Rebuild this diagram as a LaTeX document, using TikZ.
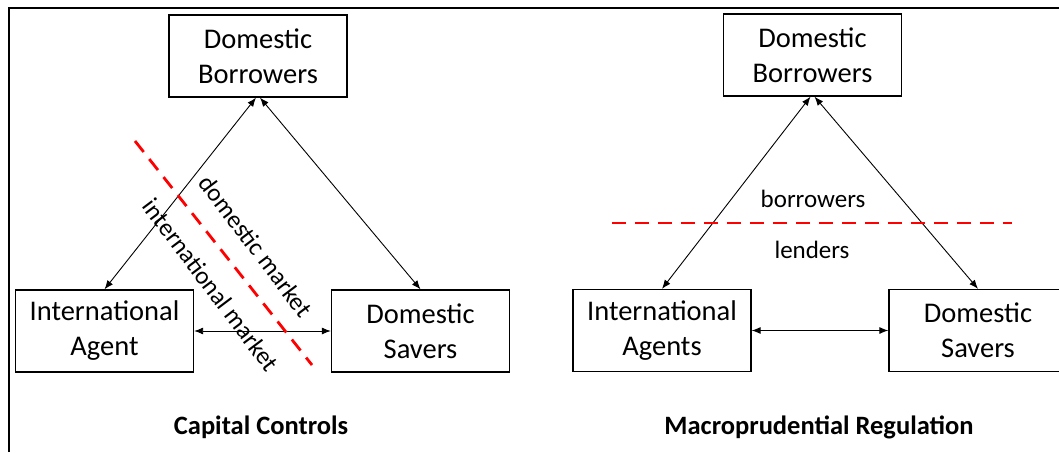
\documentclass[tikz,border=0pt]{standalone}
\usepackage{fontspec}
\setmainfont{Carlito}
\usetikzlibrary{arrows.meta}

\tikzset{
  estilo diagrama/.style={
      x=1pt, y=-1pt,
      node distance=316pt,
      caja/.style={rectangle, draw, line width=1.3pt, minimum width=178pt, minimum height=82pt,
          align=center, inner sep=0pt, font={\fontsize{28.5}{35}\selectfont}},
      flecha/.style={{Latex[length=9pt,width=7pt]}-{Latex[length=9pt,width=7pt]}, line width=0.9pt},
      frontera/.style={red, line width=2.8pt, dash pattern=on 14pt off 9pt},
      etiqueta/.style={font={\fontsize{25}{30}\selectfont}, inner sep=1pt},
      titulo/.style={font={\fontsize{26.5}{30}\selectfont\bfseries}},
    },
}

\begin{document}
\begin{tikzpicture}[estilo diagrama]
  \useasboundingbox (0,0) rectangle (1059,452);
  \draw[line width=2pt] (9,452) -- (9,8) -- (1059,8);

  % controles de capital
  \node[caja] (db1) at (258,56) {Domestic\\Borrowers};
  \node[caja] (ia1) at (104.5,331) {International\\Agent};
  \node[caja, right of=ia1] (ds1) {Domestic\\Savers};

  \draw[flecha] ([xshift=-2pt]db1.south) -- (ia1.north);
  \draw[flecha] ([xshift=2pt]db1.south) -- (ds1.north);
  \draw[flecha] (ia1) -- (ds1);

  \coordinate (f1a) at (135,141);
  \coordinate (f1b) at (312,365);
  \draw[frontera] (f1a) -- (f1b);
  \node[etiqueta, rotate=-53] (dom) at (256,246) {domestic market};
  \node[etiqueta, rotate=-53] (int) at (211,285) {international market};
  \node[titulo] (t1) at (261,427) {Capital Controls};

  % regulacion macroprudencial
  \node[caja] (db2) at (812.5,55) {Domestic\\Borrowers};
  \node[caja] (ia2) at (662,330.5) {International\\Agents};
  \node[caja, right of=ia2] (ds2) {Domestic\\Savers};

  \draw[flecha] ([xshift=-2pt]db2.south) -- (ia2.north);
  \draw[flecha] ([xshift=2pt]db2.south) -- (ds2.north);
  \draw[flecha] (ia2) -- (ds2);

  \coordinate (f2a) at (612,223);
  \coordinate (f2b) at (1012,223);
  \draw[frontera] (f2a) -- (f2b);
  \node[etiqueta] (pres) at (813,199) {borrowers};
  \node[etiqueta] (prest) at (812,250) {lenders};
  \node[titulo] (t2) at (819,427) {Macroprudential Regulation};
\end{tikzpicture}
\end{document}
